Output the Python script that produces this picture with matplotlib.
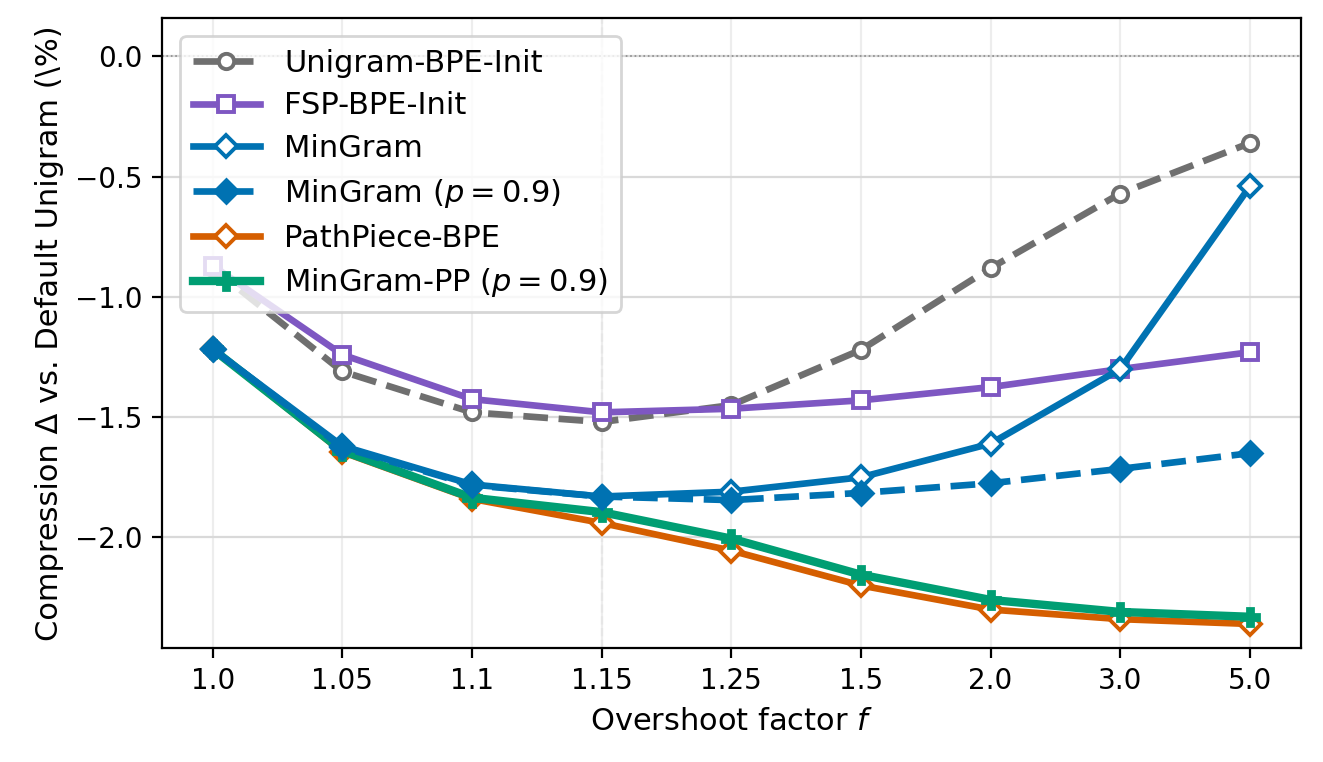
import matplotlib
matplotlib.use('Agg')
import matplotlib.pyplot as plt
import numpy as np

factors = ['1.0', '1.05', '1.1', '1.15', '1.25', '1.5', '2.0', '3.0', '5.0']

unigram_bpe_init = [-0.88, -1.31, -1.48, -1.52, -1.45, -1.22, -0.88, -0.57, -0.36]
fsp_bpe_init = [-0.87, -1.24, -1.425, -1.48, -1.465, -1.43, -1.375, -1.30, -1.23]
mingram = [-1.217, -1.62, -1.78, -1.83, -1.81, -1.75, -1.61, -1.30, -0.54]
mingram_p09 = [-1.217, -1.625, -1.783, -1.83, -1.845, -1.815, -1.775, -1.715, -1.65]
pathpiece_bpe = [-1.217, -1.645, -1.84, -1.94, -2.055, -2.20, -2.30, -2.34, -2.36]
mingram_pp_p09 = [-1.217, -1.64, -1.835, -1.895, -2.005, -2.155, -2.26, -2.31, -2.33]


def run():
    fig = plt.figure(figsize=(6.615, 3.81), dpi=200)
    ax = fig.add_axes([0.1225, 0.1496, 0.8605, 0.8268])
    x = np.arange(len(factors))

    ax.axhline(0, color='0.55', lw=0.6, ls=':', zorder=1)
    ax.axvline(3, color='0.9', lw=0.8, ls='--', zorder=1)

    ax.plot(x, unigram_bpe_init, color='#6f6f6f', ls='--', lw=2.4, marker='o',
            ms=5.5, mfc='white', mew=1.4, label='Unigram-BPE-Init', zorder=3)
    ax.plot(x, fsp_bpe_init, color='#7E57C2', lw=2.4, marker='s',
            ms=5.5, mfc='white', mew=1.4, label='FSP-BPE-Init', zorder=3)
    ax.plot(x, mingram, color='#0072B2', lw=2.4, marker='D',
            ms=5.5, mfc='white', mew=1.4, label='MinGram', zorder=4)
    ax.plot(x, mingram_p09, color='#0072B2', ls='--', lw=2.4, marker='D',
            ms=6, label='MinGram ($p = 0.9$)', zorder=4)
    ax.plot(x, pathpiece_bpe, color='#D55E00', lw=2.4, marker='D',
            ms=5.5, mfc='white', mew=1.4, label='PathPiece-BPE', zorder=3)
    ax.plot(x, mingram_pp_p09, color='#009E73', lw=3.0, marker='P',
            ms=6.5, label='MinGram-PP ($p = 0.9$)', zorder=3)

    ax.set_xticks(x)
    ax.set_xticklabels(factors, fontsize=10)
    ax.set_yticks([0.0, -0.5, -1.0, -1.5, -2.0])
    ax.tick_params(axis='y', labelsize=10)
    ax.set_ylim(-2.46, 0.16)
    ax.set_xlim(-0.39, 8.39)
    ax.grid(True, axis='y', color='0.85', lw=0.8)
    ax.grid(True, axis='x', color='0.93', lw=0.8)
    ax.set_axisbelow(True)

    ax.set_xlabel('Overshoot factor $f$', fontsize=11)
    ax.set_ylabel('Compression \u0394 vs. Default Unigram (\\%)', fontsize=11)
    ax.legend(loc='upper left', fontsize=11, handlelength=2.2, labelspacing=0.45,
              borderaxespad=0.6)

    fig.savefig('out.png', dpi=200)
    return 0


if __name__ == '__main__':
    run()
